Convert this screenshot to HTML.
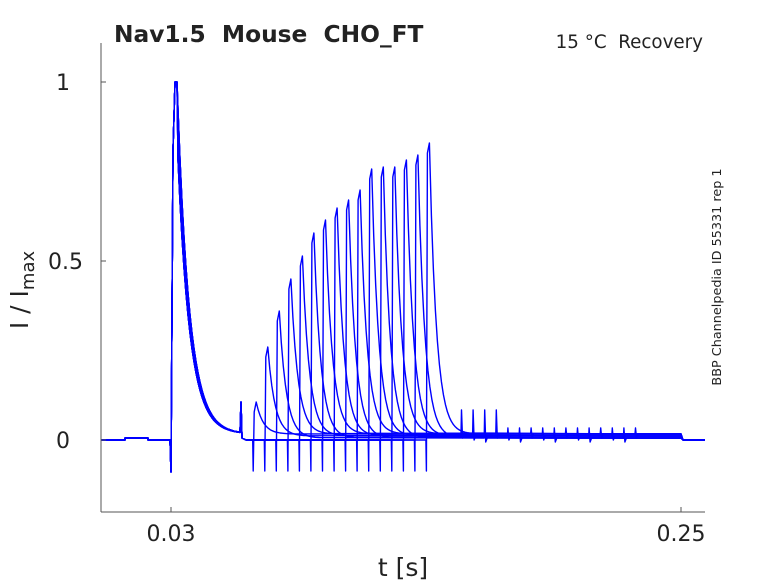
<!DOCTYPE html>
<html><head><meta charset="utf-8"><style>
body{margin:0;background:#fff}
svg text{font-family:"DejaVu Sans","Liberation Sans",sans-serif;fill:#222;white-space:pre}
</style></head><body>
<svg id="s" width="778" height="583" viewBox="0 0 778 583" xmlns="http://www.w3.org/2000/svg" xml:space="preserve">
<rect width="778" height="583" fill="#fff"/>
<g id="tr" fill="none" stroke="#0000ff" stroke-width="1.4" stroke-linejoin="round"></g>
<g stroke="#555" stroke-width="1" fill="none">
<line x1="101" y1="43" x2="101" y2="512"/>
<line x1="101" y1="512" x2="705" y2="512"/>
<line x1="101" y1="82" x2="106" y2="82"/>
<line x1="101" y1="261" x2="106" y2="261"/>
<line x1="101" y1="440" x2="106" y2="440"/>
<line x1="171" y1="512" x2="171" y2="507"/>
<line x1="681" y1="512" x2="681" y2="507"/>
</g>
<text x="70" y="90" font-size="22" text-anchor="end">1</text>
<text x="83" y="269" font-size="22" text-anchor="end">0.5</text>
<text x="70" y="448" font-size="22" text-anchor="end">0</text>
<text x="171" y="541" font-size="22" text-anchor="middle">0.03</text>
<text x="681" y="541" font-size="22" text-anchor="middle">0.25</text>
<text x="403" y="576" font-size="25" text-anchor="middle">t [s]</text>
<text transform="translate(28,290) rotate(-90)" font-size="25" text-anchor="middle">I / I<tspan font-size="18" dy="6">max</tspan></text>
<text x="114" y="42" font-size="23.3" font-weight="bold" fill="#000">Nav1.5  Mouse  CHO_FT</text>
<text x="703" y="48" font-size="18.3" text-anchor="end">15 °C  Recovery</text>
<text transform="translate(721,277) rotate(-90)" font-size="12.8" text-anchor="middle">BBP Channelpedia ID 55331 rep 1</text>
</svg>
<script>
var peaks=[402,347,311,279,256,233,220,208,200,190,169,167,167,160,155,143];
var g=document.getElementById('tr'),out='';
for(var i=0;i<16;i++){
 var d='M101 440 L125 440 L125 438 L148 438 L148 440 L170 440 L171 472 L173 150 L175 82 L177 82';
 var off=(i%3)-1;
 for(var x=178;x<=240;x+=2){d+=' L'+x+' '+(440-6-352*Math.exp(-(x-176-off)/12)).toFixed(1);}
 d+=' L241 402 L242 438 L246 440';
 var n=252.7+11.55*i,h=peaks[i];
 d+=' L'+n.toFixed(1)+' 440 L'+(n+0.5).toFixed(1)+' 471 L'+(n+1.5).toFixed(1)+' '+(h+10)+' L'+(n+3.5).toFixed(1)+' '+h;
 var base=434+(i%3)*2;
 for(var k=1;k<=20;k++){var x=n+3.5+k*2;d+=' L'+x.toFixed(1)+' '+(base-(base-h)*Math.exp(-k*2/7)).toFixed(1);}
 var e=461+11.6*i; if(e>672)e=672;
 var eh=i<4?410:428;
 d+=' L'+e.toFixed(1)+' '+base+' L'+(e+0.5).toFixed(1)+' '+eh+' L'+(e+1.5).toFixed(1)+' '+(base+4)+' L'+(e+3)+' '+base;
 d+=' L681 '+base+' L683 440 L705 440';
 out+='<path d="'+d+'"/>';
}
g.innerHTML=out;
</script>
</body></html>
